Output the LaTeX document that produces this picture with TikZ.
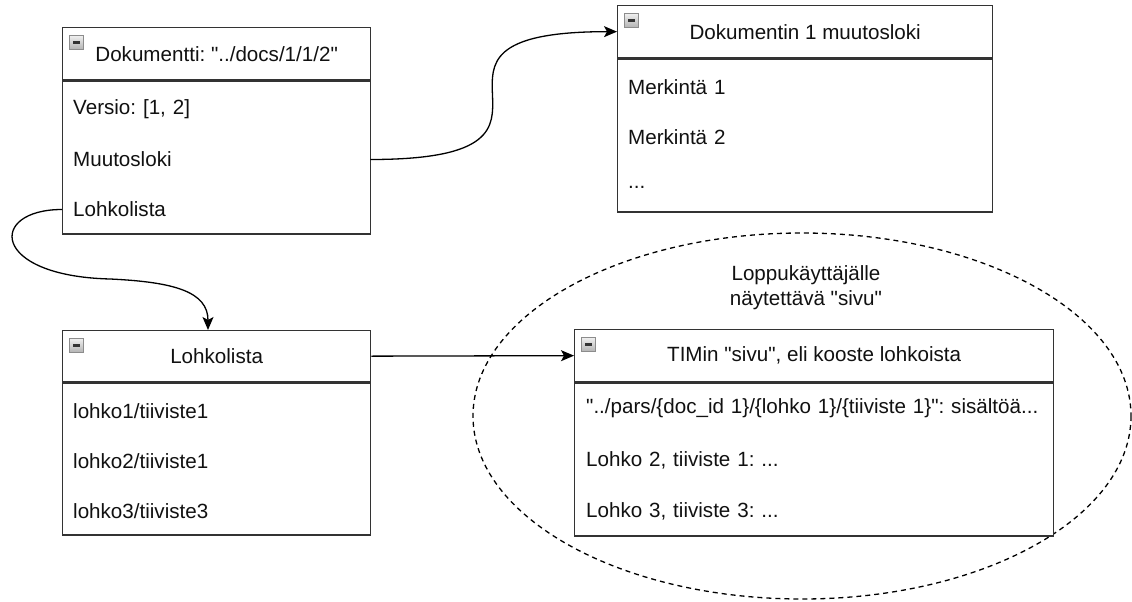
\documentclass[tikz,border=0pt]{standalone}
\usepackage{fontspec}
% plain family: keeps the straight " quotes as typed
\newfontfamily\plainsans{Liberation Sans}
\usetikzlibrary{arrows.meta,calc}
\definecolor{frame}{HTML}{333333}
\definecolor{ink}{HTML}{111111}
\frenchspacing

\begin{document}
\begin{tikzpicture}[x=1pt,y=-1pt,
  font=\plainsans\fontsize{20.6}{24}\selectfont, text=ink,
  box/.style={draw=frame, line width=1.3pt, fill=white, anchor=north west, inner sep=0pt},
  title/.style={box, align=center},
  row/.style={anchor=north west, inner xsep=11pt, inner ysep=0pt, minimum height=50pt, align=left},
  icon/.style={anchor=north west, draw=black!45, line width=0.8pt, minimum size=14pt, inner sep=0pt,
    top color=black!6, bottom color=black!30,
    path picture={\fill[black!80] ([xshift=3.5pt,yshift=-1.2pt]path picture bounding box.west)
      rectangle ([xshift=-3.5pt,yshift=1.2pt]path picture bounding box.east);}},
  link/.style={draw=black, line width=1.3pt, -{Stealth[length=13pt,width=11pt,inset=3pt]}},
  group/.style={draw=black, line width=1.3pt, dash pattern=on 5pt off 4pt}
]
\useasboundingbox (0,0) rectangle (1132,602);

% end-user page grouping
\draw[group] (802,416) ellipse [x radius=329, y radius=183];
\node[align=center, font=\plainsans\fontsize{20.6}{25}\selectfont] (grouplbl) at (806,288)
  {Loppukäyttäjälle\\näytettävä "sivu"};

% document
\node[title, minimum width=308pt, minimum height=52pt] (doc) at (62,27) {Dokumentti: "../docs/1/1/2"};
\node[box, minimum width=308pt, minimum height=153pt] (docbody) at (doc.south west) {};
\node[icon] (docicon) at ($(doc.north west)+(7,8)$) {};
\node[row, text width=286pt] (docver)  at ($(docbody.north west)+(0,4)$)   {Versio: [1, 2]};
\node[row, text width=286pt] (docmuut) at ($(docbody.north west)+(0,54)$)  {Muutosloki};
\node[row, text width=286pt] (docloh)  at ($(docbody.north west)+(0,104)$) {Lohkolista};

% change log
\node[title, minimum width=375pt, minimum height=52pt] (log) at (617,5) {Dokumentin 1 muutosloki};
\node[box, minimum width=375pt, minimum height=153pt] (logbody) at (log.south west) {};
\node[icon] (logicon) at ($(log.north west)+(7,8)$) {};
\node[row, text width=353pt] (log1) at ($(logbody.north west)+(0,4)$)   {Merkintä 1};
\node[row, text width=353pt] (log2) at ($(logbody.north west)+(0,54)$)  {Merkintä 2};
\node[row, text width=353pt] (log3) at ($(logbody.north west)+(0,104)$) {...};

% block list
\node[title, minimum width=308pt, minimum height=51pt] (blocks) at (62,330) {Lohkolista};
\node[box, minimum width=308pt, minimum height=152pt] (blocksbody) at (blocks.south west) {};
\node[icon] (blocksicon) at ($(blocks.north west)+(7,8)$) {};
\node[row, text width=286pt] (blk1) at ($(blocksbody.north west)+(0,4)$)   {lohko1/tiiviste1};
\node[row, text width=286pt] (blk2) at ($(blocksbody.north west)+(0,54)$)  {lohko2/tiiviste1};
\node[row, text width=286pt] (blk3) at ($(blocksbody.north west)+(0,104)$) {lohko3/tiiviste3};

% assembled page
\node[title, minimum width=479pt, minimum height=52pt] (page) at (574,329) {TIMin "sivu", eli kooste lohkoista};
\node[box, minimum width=479pt, minimum height=153pt] (pagebody) at (page.south west) {};
\node[icon] (pageicon) at ($(page.north west)+(7,8)$) {};
\node[row, inner xsep=12pt, text width=455pt] (pg1) at ($(pagebody.north west)+(0,1)$)   {"../pars/\{doc\_id 1\}/\{lohko 1\}/\{tiiviste 1\}": sisältöä...};
\node[row, inner xsep=12pt, text width=455pt] (pg2) at ($(pagebody.north west)+(0,53)$)  {Lohko 2, tiiviste 1: ...};
\node[row, inner xsep=12pt, text width=455pt] (pg3) at ($(pagebody.north west)+(0,104)$) {Lohko 3, tiiviste 3: ...};

% connectors
\coordinate (bend) at (110,279);
\coordinate (blkin) at ($(blocks.north west)+(146,0)$);
\draw[link] (docmuut.east) .. controls +(247,0) and +(-247,0) .. (log.west);
\draw[link] (docloh.west) .. controls +(-74,0) and (-10,276) .. (bend)
  .. controls (175,282) and (208,292) .. (blkin);
\draw[link] (blocks.east) -- (page.west);
\end{tikzpicture}
\end{document}
